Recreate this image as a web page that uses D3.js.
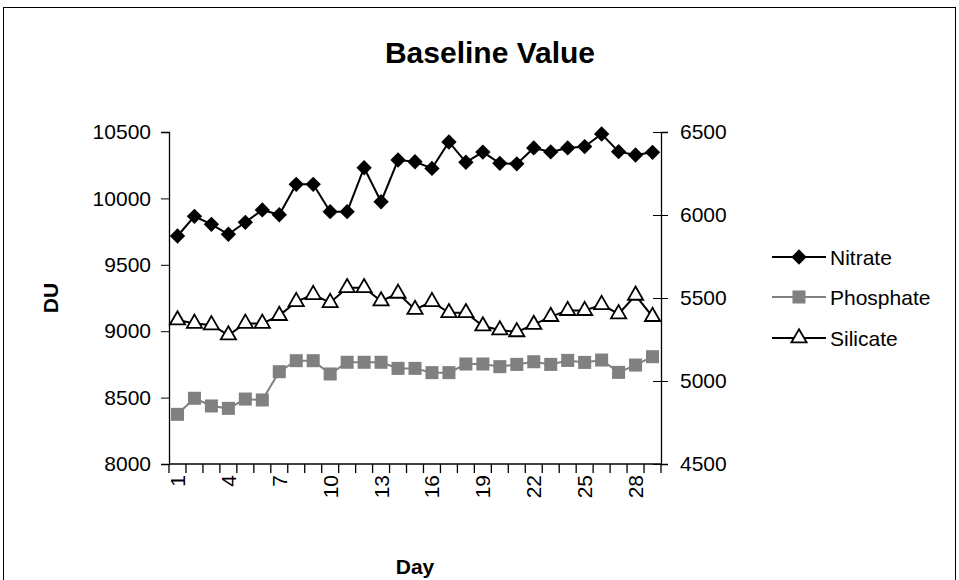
<!DOCTYPE html>
<html><head><meta charset="utf-8">
<script src="https://cdn.jsdelivr.net/npm/d3@7"></script>
<style>body{margin:0;background:#fff}svg{display:block}text{font-family:"Liberation Sans",Arial,sans-serif}</style>
</head><body><svg id="c" width="959" height="580"></svg>
<script>
const days = d3.range(1, 30);
const nitrate = [9717,9865,9805,9730,9820,9913,9877,10106,10106,9900,9900,10231,9975,10289,10276,10226,10425,10272,10349,10264,10260,10380,10350,10380,10390,10485,10352,10327,10347];
const phosphate = [8374,8495,8437,8419,8489,8482,8695,8778,8778,8678,8766,8766,8766,8720,8720,8688,8688,8753,8753,8733,8750,8770,8750,8780,8765,8783,8690,8745,8808];
// silicate plotted on the secondary (right) axis
const silicate = [5367,5347,5338,5277,5347,5347,5394,5478,5520,5472,5562,5562,5482,5528,5431,5478,5411,5411,5331,5307,5296,5340,5388,5424,5424,5460,5404,5516,5388];
const leftTicks = [8000,8500,9000,9500,10000,10500];
const rightTicks = [4500,5000,5500,6000,6500];
const xLabels = [1,4,7,10,13,16,19,22,25,28];
const seriesNames = ["Nitrate","Phosphate","Silicate"];

const svg = d3.select("#c");
const L = 169, R = 661, T = 132, B = 464;
svg.append("rect").attr("x",3.5).attr("y",7.5).attr("width",952).attr("height",600).attr("fill","none").attr("stroke","#000").attr("stroke-width",1);

const x = d3.scaleBand().domain(days).range([L, R]);
const bw = x.bandwidth();
const cx = d => x(d) + bw/2;
const yL = d3.scaleLinear().domain([8000,10500]).range([B, T]);
const yR = d3.scaleLinear().domain([4500,6500]).range([B, T]);

svg.append("text").attr("x",490).attr("y",63).attr("text-anchor","middle").attr("font-size",30).attr("font-weight","bold").text("Baseline Value");

const FS = 21;
// left axis
const gl = svg.append("g").attr("transform",`translate(${L},0)`)
  .call(d3.axisLeft(yL).tickValues(leftTicks).tickSize(8).tickPadding(10).tickFormat(d3.format("d")));
gl.selectAll("text").attr("font-size",FS).attr("fill","#000").style("font-family","Liberation Sans, Arial");
gl.select(".domain").attr("stroke","#000").attr("stroke-width",1.3);
// right axis
const gr = svg.append("g").attr("transform",`translate(${R},0)`)
  .call(d3.axisRight(yR).tickValues(rightTicks).tickSize(7).tickPadding(12).tickFormat(d3.format("d")));
gr.selectAll(".tick line").attr("x1",-8);
gr.selectAll("text").attr("font-size",FS).attr("fill","#000").style("font-family","Liberation Sans, Arial");
gr.select(".domain").attr("stroke","#000").attr("stroke-width",1.3);

// x axis
const gx = svg.append("g");
gx.append("line").attr("x1",L).attr("x2",R).attr("y1",B).attr("y2",B).attr("stroke","#000").attr("stroke-width",1.3);
const bounds = days.map(d => x(d)).concat([x(days[days.length-1]) + bw]);
gx.selectAll("line.t").data(bounds).enter().append("line")
  .attr("x1",d=>d).attr("x2",d=>d).attr("y1",B).attr("y2",B+9).attr("stroke","#000").attr("stroke-width",1.3);
gx.selectAll("text").data(xLabels).enter().append("text")
  .attr("transform",d=>`translate(${cx(d)+7.5},${B+11}) rotate(-90)`)
  .attr("text-anchor","end").attr("font-size",FS).text(d=>d);

svg.append("text").attr("transform","translate(58,298) rotate(-90)").attr("text-anchor","middle").attr("font-size",FS).attr("font-weight","bold").text("DU");
svg.append("text").attr("x",415).attr("y",574).attr("text-anchor","middle").attr("font-size",FS).attr("font-weight","bold").text("Day");

const line = (ys, arr) => d3.line().x((v,i)=>cx(days[i])).y(v=>ys(v))(arr);
svg.append("path").attr("d",line(yL,phosphate)).attr("fill","none").attr("stroke","#808080").attr("stroke-width",2);
svg.append("path").attr("d",line(yR,silicate)).attr("fill","none").attr("stroke","#000").attr("stroke-width",2);
svg.append("path").attr("d",line(yL,nitrate)).attr("fill","none").attr("stroke","#000").attr("stroke-width",2);

const diamond = d3.symbol().type(d3.symbolDiamond2).size(150);
const square = d3.symbol().type(d3.symbolSquare).size(170);
const tri = d3.symbol().type(d3.symbolTriangle).size(100);

svg.selectAll("path.ph").data(phosphate).enter().append("path").attr("class","ph")
  .attr("d",square).attr("transform",(v,i)=>`translate(${cx(days[i])},${yL(v)})`).attr("fill","#808080");
svg.selectAll("path.si").data(silicate).enter().append("path").attr("class","si")
  .attr("d",tri).attr("transform",(v,i)=>`translate(${cx(days[i])},${yR(v)})`).attr("fill","#fff").attr("stroke","#000").attr("stroke-width",1.8);
svg.selectAll("path.ni").data(nitrate).enter().append("path").attr("class","ni")
  .attr("d",diamond).attr("transform",(v,i)=>`translate(${cx(days[i])},${yL(v)})`).attr("fill","#000");

// legend
const lg = svg.append("g");
const ly = [257, 297, 338];
const styles = [
  {c:"#000", sym:diamond, fill:"#000", stroke:"none"},
  {c:"#808080", sym:square, fill:"#808080", stroke:"none"},
  {c:"#000", sym:tri, fill:"#fff", stroke:"#000"}];
seriesNames.forEach((n,i)=>{
  const s = styles[i];
  lg.append("line").attr("x1",772).attr("x2",826).attr("y1",ly[i]).attr("y2",ly[i]).attr("stroke",s.c).attr("stroke-width",2);
  lg.append("path").attr("d",s.sym).attr("transform",`translate(799,${ly[i]})`).attr("fill",s.fill).attr("stroke",s.stroke).attr("stroke-width",1.8);
  lg.append("text").attr("x",830).attr("y",ly[i]+7.5).attr("font-size",FS).text(n);
});
</script></body></html>
